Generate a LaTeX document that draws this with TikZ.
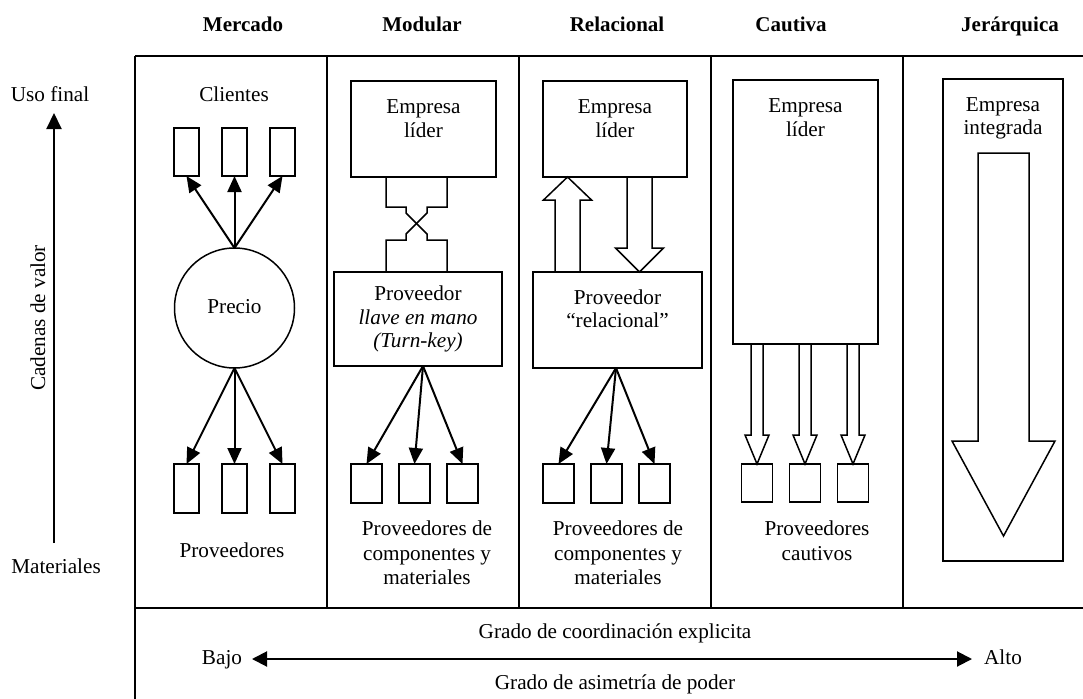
\documentclass[tikz,border=0pt]{standalone}
\usepackage{fontspec}
\setmainfont{Liberation Serif}
\usetikzlibrary{arrows.meta,calc}
\begin{document}
\begin{tikzpicture}[x=1pt,y=-1pt,
  txt/.style={font=\fontsize{21.2}{23.5}\selectfont, inner sep=0pt, align=center},
  one/.style={txt, text height=14.5pt, text depth=4.5pt},
  txtb/.style={font=\fontsize{21.2}{24.5}\selectfont, inner sep=0pt, align=center},
  hdr/.style={font=\fontsize{21}{24}\selectfont\bfseries, inner sep=0pt, anchor=base},
  box/.style={draw, line width=1.5pt, inner sep=0pt, outer sep=0pt},
  ln/.style={line width=1.5pt},
  arr/.style={line width=2pt, -{Triangle[length=16pt,width=14pt]}},
  frame/.style={line width=2pt},
  hollow/.style={draw, line width=1.5pt, line join=miter},
]
\useasboundingbox (0,0) rectangle (1083,698);

% frame
\draw[frame] (135,56) -- (1086,56);
\draw[frame] (135,56) -- (135,700);
\draw[frame] (135,608) -- (1086,608);
\foreach \x in {327,519,711,903} \draw[frame] (\x,56) -- (\x,608);

% headers
\node[hdr] (hMer) at (243,32) {Mercado};
\node[hdr] (hMod) at (422,32) {Modular};
\node[hdr] (hRel) at (617,32) {Relacional};
\node[hdr] (hCau) at (791,32) {Cautiva};
\node[hdr] (hJer) at (1010,32) {Jerárquica};

% left axis
\node[one] (uso) at (50,97) {Uso final};
\node[one] (mat) at (56,568) {Materiales};
\coordinate (axB) at (54,543);
\coordinate (axT) at (54,113);
\draw[line width=2pt, -{Triangle[length=16pt,width=15pt]}] (axB) -- (axT);
\node[one, rotate=90] (cad) at (40,318) {Cadenas de valor};

% Mercado
\node[one] (cli) at (234,97) {Clientes};
\foreach \i/\x in {1/186.5,2/234.5,3/282.5} {
  \node[box, minimum width=25pt, minimum height=48pt] (c\i) at (\x,152) {};
  \node[box, minimum width=25pt, minimum height=49pt] (s\i) at (\x,488.5) {};
}
\node[box, circle, minimum size=120pt, one] (precio) at (234.5,308) {Precio};
\foreach \i in {1,2,3} {
  \draw[arr] (precio.north) -- (c\i.south);
  \draw[arr] (precio.south) -- (s\i.north);
}
\node[one] (prov) at (232,552) {Proveedores};

% Modular
\node[box, minimum width=145pt, minimum height=96pt] (mlid) at (423.5,129) {};
\node[txt] (mlidT) at (423.5,118.5) {Empresa\\líder};
\node[box, minimum width=168pt, minimum height=94pt, txt] (mprov) at (418,319) {Proveedor\\\textit{llave en mano}\\\textit{(Turn-key)}};
\draw[ln] (386,177) -- (386,207) -- (406,207) -- (406,213) -- (427,234) -- (427,240) -- (447,240) -- (447,272);
\draw[ln] (447,177) -- (447,207) -- (427,207) -- (427,213) -- (406,234) -- (406,240) -- (386,240) -- (386,272);
\foreach \i/\x in {1/366.5,2/414.5,3/462.5}
  \node[box, minimum width=31pt, minimum height=39pt] (mb\i) at (\x,483.5) {};
\coordinate (mo) at (423,366);
\foreach \i in {1,2,3} \draw[arr] (mo) -- (mb\i.north);
\node[txtb] (mtxt) at (427,553) {Proveedores de\\componentes y\\materiales};

% Relacional
\node[box, minimum width=144pt, minimum height=96pt] (rlid) at (615,129) {};
\node[txt] (rlidT) at (615,118.5) {Empresa\\líder};
\node[box, minimum width=169pt, minimum height=96pt] (rprov) at (617.5,320) {};
\node[txt] (rprovT) at (617.5,308.5) {Proveedor\\“relacional”};
\draw[hollow] (555,272) -- (555,200) -- (543.5,200) -- (567.5,177) -- (591.5,200) -- (580,200) -- (580,272);
\draw[hollow] (627,177) -- (627,248) -- (615.5,248) -- (639.5,272) -- (663.5,248) -- (652,248) -- (652,177);
\foreach \i/\x in {1/558.5,2/606.5,3/654.5}
  \node[box, minimum width=31pt, minimum height=39pt] (rb\i) at (\x,483.5) {};
\coordinate (ro) at (616,368);
\foreach \i in {1,2,3} \draw[arr] (ro) -- (rb\i.north);
\node[txtb] (rtxt) at (618,553) {Proveedores de\\componentes y\\materiales};

% Cautiva
\node[box, minimum width=145pt, minimum height=264pt] (clid) at (805.5,212) {};
\node[txt] (clidT) at (805.5,117.5) {Empresa\\líder};
\foreach \i/\x in {1/757,2/805,3/853} {
  \node[box, minimum width=31pt, minimum height=38pt] (cb\i) at (\x,483) {};
  \draw[hollow] (\x-6,344) -- (\x-6,435) -- (\x-12,435) -- (\x,464) -- (\x+12,435) -- (\x+6,435) -- (\x+6,344);
}
\node[txtb] (ctxt) at (817,540.5) {Proveedores\\cautivos};

% Jerarquica
\node[box, minimum width=120pt, minimum height=482pt] (jbox) at (1003,320) {};
\node[txt] (jT) at (1003,118.5) {Empresa\\integrada};
\draw[hollow] (978,153) -- (978,441) -- (952,441) -- (1003.5,536) -- (1055,441) -- (1029,441) -- (1029,153) -- cycle;

% bottom
\node[one] (gc) at (615,633) {Grado de coordinación explicita};
\node[one] (ga) at (615,684) {Grado de asimetría de poder};
\node[one] (bajo) at (222,659) {Bajo};
\node[one] (alto) at (1003,659) {Alto};
\coordinate (bl) at (252,659);
\coordinate (br) at (972,659);
\draw[line width=2pt, {Triangle[length=15pt,width=15pt]}-{Triangle[length=15pt,width=15pt]}] (bl) -- (br);
\end{tikzpicture}
\end{document}
